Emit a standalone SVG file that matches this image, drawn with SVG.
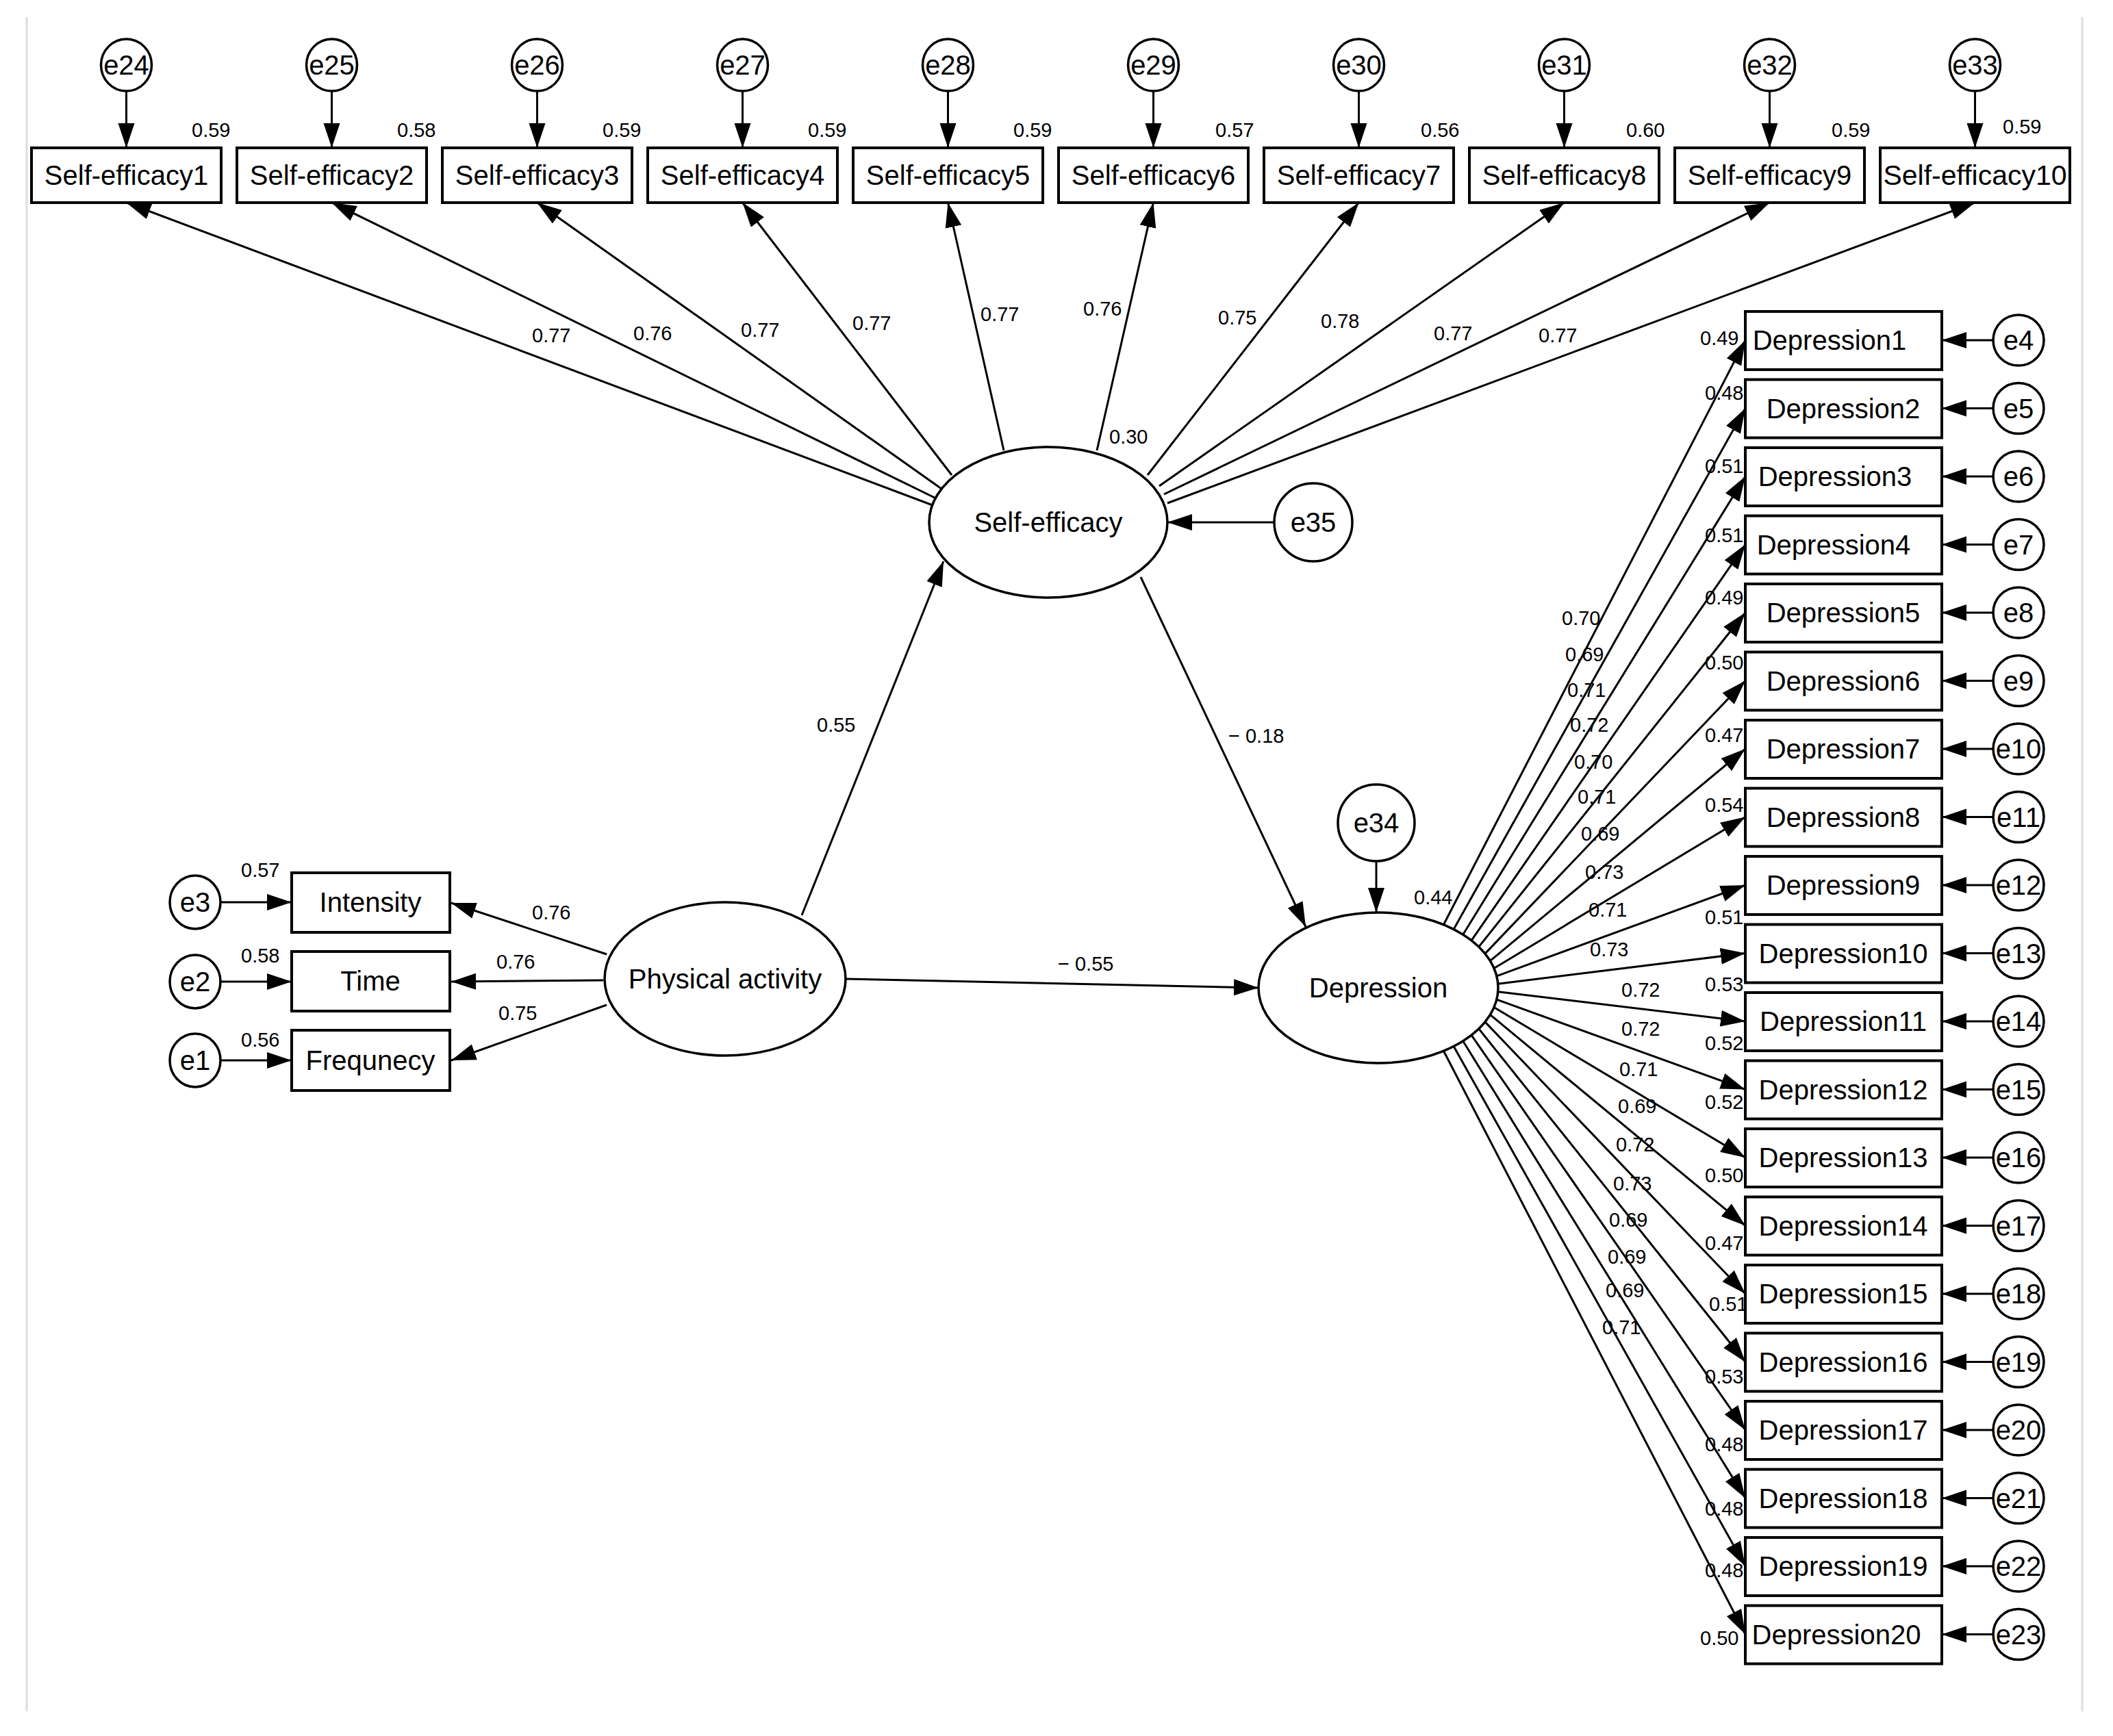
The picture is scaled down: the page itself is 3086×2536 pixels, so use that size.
<svg xmlns="http://www.w3.org/2000/svg" width="3086" height="2536" viewBox="0 0 3086 2536">
<style>
.bx{fill:#fff;stroke:#000;stroke-width:4}
.el{fill:#fff;stroke:#000;stroke-width:3.5}
.t{font-family:"Liberation Sans",Arial,sans-serif;font-size:40px;text-anchor:middle;fill:#000}
.n{font-family:"Liberation Sans",Arial,sans-serif;font-size:29px;fill:#000}
.c line{stroke:#000;stroke-width:3;marker-end:url(#ah)}
</style>
<defs>
<marker id="ah" markerUnits="userSpaceOnUse" markerWidth="40" markerHeight="26" refX="36" refY="12" orient="auto"><path d="M0,0 L36,12 L0,24 z" fill="#000"/></marker>
</defs>
<rect width="3086" height="2536" fill="#fff"/>
<line x1="39" y1="25" x2="39" y2="2500" stroke="#ddd" stroke-width="3"/>
<line x1="3041" y1="25" x2="3041" y2="2500" stroke="#ddd" stroke-width="3"/>

<g id="connectors" class="c">
<!-- SE errors -->
<line x1="184.5" y1="133" x2="184.5" y2="216"/><line x1="484.5" y1="133" x2="484.5" y2="216"/><line x1="784.5" y1="133" x2="784.5" y2="216"/><line x1="1084.5" y1="133" x2="1084.5" y2="216"/><line x1="1384.5" y1="133" x2="1384.5" y2="216"/><line x1="1684.5" y1="133" x2="1684.5" y2="216"/><line x1="1984.5" y1="133" x2="1984.5" y2="216"/><line x1="2284.5" y1="133" x2="2284.5" y2="216"/><line x1="2584.5" y1="133" x2="2584.5" y2="216"/><line x1="2884.5" y1="133" x2="2884.5" y2="216"/>
<!-- SE loadings -->
<line x1="1362" y1="738" x2="184.5" y2="296"/><line x1="1367" y1="728" x2="484.5" y2="296"/><line x1="1375" y1="714" x2="784.5" y2="296"/><line x1="1390" y1="694" x2="1084.5" y2="296"/><line x1="1466" y1="658" x2="1384.5" y2="296"/><line x1="1602" y1="658" x2="1684.5" y2="296"/><line x1="1676" y1="694" x2="1984.5" y2="296"/><line x1="1693" y1="710" x2="2284.5" y2="296"/><line x1="1700" y1="722" x2="2584.5" y2="296"/><line x1="1705" y1="735" x2="2884.5" y2="296"/>
<line x1="1861" y1="763" x2="1705" y2="763"/>
<!-- structural -->
<line x1="1171" y1="1337" x2="1378" y2="820"/>
<line x1="1235" y1="1430" x2="1838" y2="1443"/>
<line x1="1666" y1="843" x2="1907" y2="1354"/>
<line x1="2010" y1="1259" x2="2010" y2="1333"/>
<!-- PA indicators -->
<line x1="886" y1="1394" x2="659" y2="1319"/><line x1="881" y1="1432" x2="659" y2="1434"/><line x1="886" y1="1468" x2="659" y2="1549"/>
<line x1="323" y1="1318" x2="426" y2="1318"/><line x1="323" y1="1434" x2="426" y2="1434"/><line x1="323" y1="1549" x2="426" y2="1549"/>
<!-- Depression loadings -->
<line x1="2108.4" y1="1350.7" x2="2549" y2="497"/>
<line x1="2123.1" y1="1357.5" x2="2549" y2="596.5"/>
<line x1="2136.7" y1="1365.2" x2="2549" y2="696"/>
<line x1="2149" y1="1373.8" x2="2549" y2="795.5"/>
<line x1="2159.8" y1="1383.1" x2="2549" y2="895"/>
<line x1="2168.9" y1="1393.1" x2="2549" y2="994.5"/>
<line x1="2176.4" y1="1403.6" x2="2549" y2="1094"/>
<line x1="2182" y1="1414.5" x2="2549" y2="1193.5"/>
<line x1="2185.9" y1="1425.8" x2="2549" y2="1293"/>
<line x1="2187.8" y1="1437.2" x2="2549" y2="1392.5"/>
<line x1="2187.8" y1="1448.8" x2="2549" y2="1492"/>
<line x1="2185.9" y1="1460.2" x2="2549" y2="1591.5"/>
<line x1="2182" y1="1471.5" x2="2549" y2="1691"/>
<line x1="2176.4" y1="1482.4" x2="2549" y2="1790.5"/>
<line x1="2168.9" y1="1492.9" x2="2549" y2="1890"/>
<line x1="2159.8" y1="1502.9" x2="2549" y2="1989.5"/>
<line x1="2149" y1="1512.2" x2="2549" y2="2089"/>
<line x1="2136.7" y1="1520.8" x2="2549" y2="2188.5"/>
<line x1="2123.1" y1="1528.5" x2="2549" y2="2288"/>
<line x1="2108.4" y1="1535.3" x2="2549" y2="2387.5"/>
<!-- Depression errors -->
<line x1="2911" y1="497" x2="2836" y2="497"/><line x1="2911" y1="596.5" x2="2836" y2="596.5"/><line x1="2911" y1="696" x2="2836" y2="696"/><line x1="2911" y1="795.5" x2="2836" y2="795.5"/><line x1="2911" y1="895" x2="2836" y2="895"/><line x1="2911" y1="994.5" x2="2836" y2="994.5"/><line x1="2911" y1="1094" x2="2836" y2="1094"/><line x1="2911" y1="1193.5" x2="2836" y2="1193.5"/><line x1="2911" y1="1293" x2="2836" y2="1293"/><line x1="2911" y1="1392.5" x2="2836" y2="1392.5"/><line x1="2911" y1="1492" x2="2836" y2="1492"/><line x1="2911" y1="1591.5" x2="2836" y2="1591.5"/><line x1="2911" y1="1691" x2="2836" y2="1691"/><line x1="2911" y1="1790.5" x2="2836" y2="1790.5"/><line x1="2911" y1="1890" x2="2836" y2="1890"/><line x1="2911" y1="1989.5" x2="2836" y2="1989.5"/><line x1="2911" y1="2089" x2="2836" y2="2089"/><line x1="2911" y1="2188.5" x2="2836" y2="2188.5"/><line x1="2911" y1="2288" x2="2836" y2="2288"/><line x1="2911" y1="2387.5" x2="2836" y2="2387.5"/>
</g>

<g id="connector-labels" class="n">
<text x="777" y="500">0.77</text><text x="925" y="497">0.76</text><text x="1082" y="492">0.77</text><text x="1245" y="482">0.77</text><text x="1432" y="469">0.77</text><text x="1582" y="461">0.76</text><text x="1779" y="474">0.75</text><text x="1929" y="479">0.78</text><text x="2094" y="497">0.77</text><text x="2247" y="500">0.77</text>
<text x="1620" y="648">0.30</text>
<text x="1193" y="1069">0.55</text>
<text x="1794" y="1085">− 0.18</text>
<text x="1545" y="1418">− 0.55</text>
<text x="2065" y="1321">0.44</text>
<text x="777" y="1343">0.76</text><text x="725" y="1415">0.76</text><text x="728" y="1490">0.75</text>
<text x="352" y="1281">0.57</text><text x="352" y="1406">0.58</text><text x="352" y="1529">0.56</text>
<text x="2281" y="913">0.70</text><text x="2286" y="966">0.69</text><text x="2289" y="1018">0.71</text><text x="2293" y="1069">0.72</text><text x="2299" y="1123">0.70</text><text x="2304" y="1174">0.71</text><text x="2309" y="1228">0.69</text><text x="2315" y="1284">0.73</text><text x="2320" y="1339">0.71</text><text x="2322" y="1397">0.73</text><text x="2368" y="1456">0.72</text><text x="2368" y="1513">0.72</text><text x="2365" y="1572">0.71</text><text x="2363" y="1626">0.69</text><text x="2360" y="1682">0.72</text><text x="2356" y="1739">0.73</text><text x="2350" y="1792">0.69</text><text x="2348" y="1846">0.69</text><text x="2345" y="1895">0.69</text><text x="2340" y="1949">0.71</text>
<!-- R2 SE -->
<text x="280" y="200">0.59</text><text x="580" y="200">0.58</text><text x="880" y="200">0.59</text><text x="1180" y="200">0.59</text><text x="1480" y="200">0.59</text><text x="1775" y="200">0.57</text><text x="2075" y="200">0.56</text><text x="2375" y="200">0.60</text><text x="2675" y="200">0.59</text><text x="2925" y="195">0.59</text>
<!-- R2 Dep -->
<text x="2483" y="504">0.49</text><text x="2490" y="584">0.48</text><text x="2490" y="691">0.51</text><text x="2490" y="792">0.51</text><text x="2490" y="883">0.49</text><text x="2490" y="978">0.50</text><text x="2490" y="1084">0.47</text><text x="2490" y="1186">0.54</text><text x="2490" y="1350">0.51</text><text x="2490" y="1448">0.53</text><text x="2490" y="1534">0.52</text><text x="2490" y="1620">0.52</text><text x="2490" y="1727">0.50</text><text x="2490" y="1826">0.47</text><text x="2496" y="1915">0.51</text><text x="2490" y="2021">0.53</text><text x="2490" y="2120">0.48</text><text x="2490" y="2214">0.48</text><text x="2490" y="2304">0.48</text><text x="2483" y="2403">0.50</text>
</g>

<g id="se-items">
<g id="se1"><rect class="bx" x="46" y="216" width="277" height="80"/><text class="t" x="184.5" y="270">Self-efficacy1</text></g>
<g id="se2"><rect class="bx" x="346" y="216" width="277" height="80"/><text class="t" x="484.5" y="270">Self-efficacy2</text></g>
<g id="se3"><rect class="bx" x="646" y="216" width="277" height="80"/><text class="t" x="784.5" y="270">Self-efficacy3</text></g>
<g id="se4"><rect class="bx" x="946" y="216" width="277" height="80"/><text class="t" x="1084.5" y="270">Self-efficacy4</text></g>
<g id="se5"><rect class="bx" x="1246" y="216" width="277" height="80"/><text class="t" x="1384.5" y="270">Self-efficacy5</text></g>
<g id="se6"><rect class="bx" x="1546" y="216" width="277" height="80"/><text class="t" x="1684.5" y="270">Self-efficacy6</text></g>
<g id="se7"><rect class="bx" x="1846" y="216" width="277" height="80"/><text class="t" x="1984.5" y="270">Self-efficacy7</text></g>
<g id="se8"><rect class="bx" x="2146" y="216" width="277" height="80"/><text class="t" x="2284.5" y="270">Self-efficacy8</text></g>
<g id="se9"><rect class="bx" x="2446" y="216" width="277" height="80"/><text class="t" x="2584.5" y="270">Self-efficacy9</text></g>
<g id="se10"><rect class="bx" x="2746" y="216" width="277" height="80"/><text class="t" x="2884.5" y="270" textLength="268" lengthAdjust="spacingAndGlyphs">Self-efficacy10</text></g>
</g>
<g id="se-errors">
<g id="e24"><ellipse class="el" cx="184.5" cy="95" rx="37" ry="38"/><text class="t" x="184.5" y="109">e24</text></g>
<g id="e25"><ellipse class="el" cx="484.5" cy="95" rx="37" ry="38"/><text class="t" x="484.5" y="109">e25</text></g>
<g id="e26"><ellipse class="el" cx="784.5" cy="95" rx="37" ry="38"/><text class="t" x="784.5" y="109">e26</text></g>
<g id="e27"><ellipse class="el" cx="1084.5" cy="95" rx="37" ry="38"/><text class="t" x="1084.5" y="109">e27</text></g>
<g id="e28"><ellipse class="el" cx="1384.5" cy="95" rx="37" ry="38"/><text class="t" x="1384.5" y="109">e28</text></g>
<g id="e29"><ellipse class="el" cx="1684.5" cy="95" rx="37" ry="38"/><text class="t" x="1684.5" y="109">e29</text></g>
<g id="e30"><ellipse class="el" cx="1984.5" cy="95" rx="37" ry="38"/><text class="t" x="1984.5" y="109">e30</text></g>
<g id="e31"><ellipse class="el" cx="2284.5" cy="95" rx="37" ry="38"/><text class="t" x="2284.5" y="109">e31</text></g>
<g id="e32"><ellipse class="el" cx="2584.5" cy="95" rx="37" ry="38"/><text class="t" x="2584.5" y="109">e32</text></g>
<g id="e33"><ellipse class="el" cx="2884.5" cy="95" rx="37" ry="38"/><text class="t" x="2884.5" y="109">e33</text></g>
</g>

<g id="self-efficacy"><ellipse class="el" cx="1531" cy="763" rx="174" ry="110"/><text class="t" x="1531" y="777">Self-efficacy</text></g>
<g id="e35"><circle class="el" cx="1918" cy="763" r="57"/><text class="t" x="1918" y="777">e35</text></g>
<g id="physical-activity"><ellipse class="el" cx="1059" cy="1430" rx="176" ry="112"/><text class="t" x="1059" y="1444">Physical activity</text></g>
<g id="depression"><ellipse class="el" cx="2013" cy="1443" rx="175" ry="110"/><text class="t" x="2013" y="1457">Depression</text></g>
<g id="e34"><circle class="el" cx="2010" cy="1202" r="56"/><text class="t" x="2010" y="1216">e34</text></g>

<g id="pa-items">
<g id="intensity"><rect class="bx" x="426" y="1275" width="231" height="87"/><text class="t" x="541" y="1332">Intensity</text></g>
<g id="time"><rect class="bx" x="426" y="1390" width="231" height="87"/><text class="t" x="541" y="1447">Time</text></g>
<g id="frequnecy"><rect class="bx" x="426" y="1505" width="231" height="88"/><text class="t" x="541" y="1563">Frequnecy</text></g>
<g id="e3"><ellipse class="el" cx="285" cy="1318" rx="37" ry="39"/><text class="t" x="285" y="1332">e3</text></g>
<g id="e2"><ellipse class="el" cx="285" cy="1434" rx="37" ry="39"/><text class="t" x="285" y="1448">e2</text></g>
<g id="e1"><ellipse class="el" cx="285" cy="1549" rx="37" ry="39"/><text class="t" x="285" y="1563">e1</text></g>
</g>

<g id="dep-items">
<g id="d1"><rect class="bx" x="2549" y="455" width="287" height="85"/><text class="t" x="2672" y="511">Depression1</text></g>
<g id="d2"><rect class="bx" x="2549" y="554.5" width="287" height="85"/><text class="t" x="2692" y="610.5">Depression2</text></g>
<g id="d3"><rect class="bx" x="2549" y="654" width="287" height="85"/><text class="t" x="2680" y="710">Depression3</text></g>
<g id="d4"><rect class="bx" x="2549" y="753.5" width="287" height="85"/><text class="t" x="2678" y="809.5">Depression4</text></g>
<g id="d5"><rect class="bx" x="2549" y="853" width="287" height="85"/><text class="t" x="2692" y="909">Depression5</text></g>
<g id="d6"><rect class="bx" x="2549" y="952.5" width="287" height="85"/><text class="t" x="2692" y="1008.5">Depression6</text></g>
<g id="d7"><rect class="bx" x="2549" y="1052" width="287" height="85"/><text class="t" x="2692" y="1108">Depression7</text></g>
<g id="d8"><rect class="bx" x="2549" y="1151.5" width="287" height="85"/><text class="t" x="2692" y="1207.5">Depression8</text></g>
<g id="d9"><rect class="bx" x="2549" y="1251" width="287" height="85"/><text class="t" x="2692" y="1307">Depression9</text></g>
<g id="d10"><rect class="bx" x="2549" y="1350.5" width="287" height="85"/><text class="t" x="2692" y="1406.5">Depression10</text></g>
<g id="d11"><rect class="bx" x="2549" y="1450" width="287" height="85"/><text class="t" x="2692" y="1506">Depression11</text></g>
<g id="d12"><rect class="bx" x="2549" y="1549.5" width="287" height="85"/><text class="t" x="2692" y="1605.5">Depression12</text></g>
<g id="d13"><rect class="bx" x="2549" y="1649" width="287" height="85"/><text class="t" x="2692" y="1705">Depression13</text></g>
<g id="d14"><rect class="bx" x="2549" y="1748.5" width="287" height="85"/><text class="t" x="2692" y="1804.5">Depression14</text></g>
<g id="d15"><rect class="bx" x="2549" y="1848" width="287" height="85"/><text class="t" x="2692" y="1904">Depression15</text></g>
<g id="d16"><rect class="bx" x="2549" y="1947.5" width="287" height="85"/><text class="t" x="2692" y="2003.5">Depression16</text></g>
<g id="d17"><rect class="bx" x="2549" y="2047" width="287" height="85"/><text class="t" x="2692" y="2103">Depression17</text></g>
<g id="d18"><rect class="bx" x="2549" y="2146.5" width="287" height="85"/><text class="t" x="2692" y="2202.5">Depression18</text></g>
<g id="d19"><rect class="bx" x="2549" y="2246" width="287" height="85"/><text class="t" x="2692" y="2302">Depression19</text></g>
<g id="d20"><rect class="bx" x="2549" y="2345.5" width="287" height="85"/><text class="t" x="2682" y="2401.5">Depression20</text></g>
</g>
<g id="dep-errors">
<g id="e4"><ellipse class="el" cx="2948" cy="497" rx="37" ry="37"/><text class="t" x="2948" y="511">e4</text></g>
<g id="e5"><ellipse class="el" cx="2948" cy="596.5" rx="37" ry="37"/><text class="t" x="2948" y="610.5">e5</text></g>
<g id="e6"><ellipse class="el" cx="2948" cy="696" rx="37" ry="37"/><text class="t" x="2948" y="710">e6</text></g>
<g id="e7"><ellipse class="el" cx="2948" cy="795.5" rx="37" ry="37"/><text class="t" x="2948" y="809.5">e7</text></g>
<g id="e8"><ellipse class="el" cx="2948" cy="895" rx="37" ry="37"/><text class="t" x="2948" y="909">e8</text></g>
<g id="e9"><ellipse class="el" cx="2948" cy="994.5" rx="37" ry="37"/><text class="t" x="2948" y="1008.5">e9</text></g>
<g id="e10"><ellipse class="el" cx="2948" cy="1094" rx="37" ry="37"/><text class="t" x="2948" y="1108">e10</text></g>
<g id="e11"><ellipse class="el" cx="2948" cy="1193.5" rx="37" ry="37"/><text class="t" x="2948" y="1207.5">e11</text></g>
<g id="e12"><ellipse class="el" cx="2948" cy="1293" rx="37" ry="37"/><text class="t" x="2948" y="1307">e12</text></g>
<g id="e13"><ellipse class="el" cx="2948" cy="1392.5" rx="37" ry="37"/><text class="t" x="2948" y="1406.5">e13</text></g>
<g id="e14"><ellipse class="el" cx="2948" cy="1492" rx="37" ry="37"/><text class="t" x="2948" y="1506">e14</text></g>
<g id="e15"><ellipse class="el" cx="2948" cy="1591.5" rx="37" ry="37"/><text class="t" x="2948" y="1605.5">e15</text></g>
<g id="e16"><ellipse class="el" cx="2948" cy="1691" rx="37" ry="37"/><text class="t" x="2948" y="1705">e16</text></g>
<g id="e17"><ellipse class="el" cx="2948" cy="1790.5" rx="37" ry="37"/><text class="t" x="2948" y="1804.5">e17</text></g>
<g id="e18"><ellipse class="el" cx="2948" cy="1890" rx="37" ry="37"/><text class="t" x="2948" y="1904">e18</text></g>
<g id="e19"><ellipse class="el" cx="2948" cy="1989.5" rx="37" ry="37"/><text class="t" x="2948" y="2003.5">e19</text></g>
<g id="e20"><ellipse class="el" cx="2948" cy="2089" rx="37" ry="37"/><text class="t" x="2948" y="2103">e20</text></g>
<g id="e21"><ellipse class="el" cx="2948" cy="2188.5" rx="37" ry="37"/><text class="t" x="2948" y="2202.5">e21</text></g>
<g id="e22"><ellipse class="el" cx="2948" cy="2288" rx="37" ry="37"/><text class="t" x="2948" y="2302">e22</text></g>
<g id="e23"><ellipse class="el" cx="2948" cy="2387.5" rx="37" ry="37"/><text class="t" x="2948" y="2401.5">e23</text></g>
</g>
</svg>
